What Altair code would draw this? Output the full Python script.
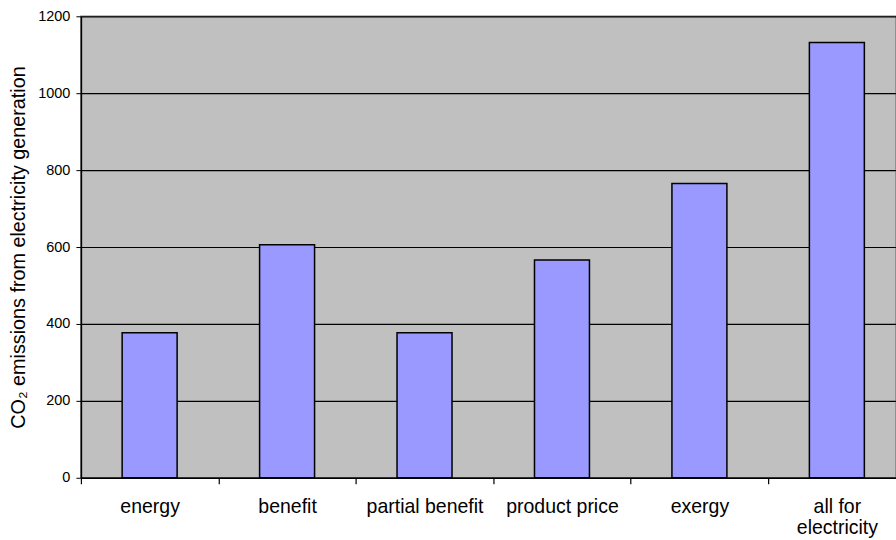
import altair as alt
import pandas as pd

# Allocation methods and the CO2 emissions attributed to electricity generation
methods = ["energy", "benefit", "partial benefit", "product price", "exergy", "all for\nelectricity"]
emissions = [377, 606, 377, 566, 765, 1132]

df = pd.DataFrame({"method": methods, "co2": emissions})

FONT = "Liberation Sans"

bars = (
    alt.Chart(df)
    .mark_bar(
        width=alt.RelativeBandSize(0.4),
        color="#9999FF",
        stroke="#000000",
        strokeWidth=1.5,
    )
    .encode(
        x=alt.X(
            "method:N",
            sort=methods,
            scale=alt.Scale(paddingInner=0, paddingOuter=0, range=[0, 825.6]),
            axis=alt.Axis(
                title=None,
                labelAngle=0,
                bandPosition=0,
                labelFont=FONT,
                labelFontSize=19.5,
                labelColor="#000000",
                labelPadding=14,
                labelLineHeight=21,
                labelExpr="split(datum.label, '\\n')",
                labelOverlap=False,
                labelBound=False,
                labelFlush=False,
                ticks=True,
                tickBand="extent",
                tickColor="#000000",
                tickSize=6,
                tickWidth=1.2,
                domainColor="#000000",
                domainWidth=1.5,
                grid=False,
            ),
        ),
        y=alt.Y(
            "co2:Q",
            scale=alt.Scale(domain=[0, 1200], nice=False),
            axis=alt.Axis(
                title="CO₂ emissions from electricity generation",
                titleFont=FONT,
                titleFontSize=19.8,
                titleFontWeight="normal",
                titleColor="#000000",
                titlePadding=9,
                values=[0, 200, 400, 600, 800, 1000, 1200],
                format="d",
                labelFont=FONT,
                labelFontSize=14.5,
                labelColor="#000000",
                labelPadding=6,
                labelFlush=False,
                tickColor="#000000",
                tickSize=5,
                domainColor="#000000",
                domainWidth=1.5,
                grid=True,
                gridColor="#000000",
                gridWidth=1.2,
            ),
        ),
    )
)

chart = (
    bars.properties(width=816, height=462)
    .configure_view(fill="#C0C0C0", stroke="#808080", strokeWidth=1.5)
    .properties(
        autosize=alt.AutoSizeParams(type="none"),
        padding={"left": 81, "top": 16, "right": 0, "bottom": 62},
        background="#FFFFFF",
    )
)

chart.save("out.html", embed_options={"renderer": "svg", "actions": False})
